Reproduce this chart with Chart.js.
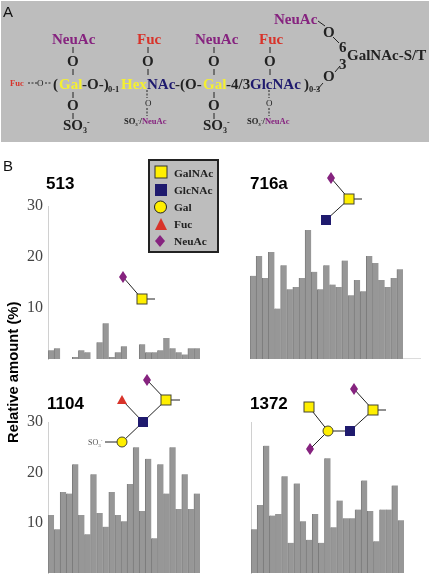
<!DOCTYPE html>
<html>
<head>
<meta charset="utf-8">
<title>Glycan amounts</title>
<script src="https://cdn.jsdelivr.net/npm/chart.js@4"></script>
<style>
  html, body { margin: 0; padding: 0; background: #fff; }
  #page { position: relative; width: 430px; height: 575px; overflow: hidden; }
  .box { position: absolute; }
  #art { position: absolute; left: 0; top: 0; z-index: 2; }
  #art text { font-family: "Liberation Serif", serif; font-weight: bold; }
  #art .sans { font-family: "Liberation Sans", sans-serif; }
  .n { fill: #1f1a6e; } .y { fill: #f5f030; } .r { fill: #d8332a; } .p { fill: #86237f; } .k { fill: #222; }
</style>
</head>
<body>
<div id="page">
  <div class="box" style="left:0;top:196px;width:215px;height:169px"><canvas id="c513"></canvas></div>
  <div class="box" style="left:215px;top:196px;width:215px;height:169px"><canvas id="c716"></canvas></div>
  <div class="box" style="left:0;top:412px;width:215px;height:163px"><canvas id="c1104"></canvas></div>
  <div class="box" style="left:215px;top:412px;width:215px;height:163px"><canvas id="c1372"></canvas></div>

  <svg id="art" width="430" height="575" viewBox="0 0 430 575" xmlns="http://www.w3.org/2000/svg">
    <!-- panel A -->
    <rect x="1" y="1" width="428" height="141" fill="#bdbdbd"/>
    <text class="sans" x="3" y="17" font-size="15" style="font-weight:normal" fill="#111">A</text>
    <g stroke="#222" stroke-width="1" fill="none">
      <path d="M73 47V53M73 69V75M73 92V98M73 113V119"/>
      <path d="M148 47V53M148 69V75"/>
      <path d="M214 47V53M214 69V75M214 92V98M214 113V119"/>
      <path d="M270 47V53M270 69V75"/>
      <path d="M318 21L325 26M333 37L339 43M340 66L335 72M323 83L317 90"/>
      <path stroke-dasharray="2 1.5" d="M28 83H37M45 83H52M147 90V98M147 108V116M269 90V98M269 108V116"/>
    </g>
    <g font-size="15">
      <text class="p" x="52" y="44">NeuAc</text>
      <text class="r" x="137" y="44">Fuc</text>
      <text class="p" x="195" y="44">NeuAc</text>
      <text class="r" x="259" y="44">Fuc</text>
      <text class="p" x="274" y="24">NeuAc</text>
      <text class="k" x="67" y="66">O</text>
      <text class="k" x="142" y="66">O</text>
      <text class="k" x="208" y="66">O</text>
      <text class="k" x="264" y="66">O</text>
      <text class="k" x="67" y="110">O</text>
      <text class="k" x="208" y="110">O</text>
      <text class="k" x="323" y="37">O</text>
      <text class="k" x="323" y="81">O</text>
      <text class="k" x="339" y="52">6</text>
      <text class="k" x="339" y="69">3</text>
      <text class="k" x="347" y="60">GalNAc-S/T</text>
      <text class="k" x="53" y="89">(</text>
      <text class="y" x="59" y="89">Gal</text>
      <text class="k" x="82" y="89">-O-)</text>
      <text class="y" x="121" y="89">Hex</text>
      <text class="n" x="147" y="89">NAc</text>
      <text class="k" x="175" y="89">-(O-</text>
      <text class="y" x="203" y="89">Gal</text>
      <text class="k" x="226" y="89">-4/3</text>
      <text class="n" x="250" y="89">GlcNAc</text>
      <text class="k" x="304" y="89">)</text>
      <text class="k" x="63" y="130">SO<tspan font-size="8" dy="3">3</tspan><tspan font-size="8" dy="-8">-</tspan></text>
      <text class="k" x="203" y="130">SO<tspan font-size="8" dy="3">3</tspan><tspan font-size="8" dy="-8">-</tspan></text>
    </g>
    <g font-size="8.5">
      <text class="r" x="10" y="86">Fuc</text>
      <text class="k" x="37" y="86" style="font-weight:normal" font-size="9">O</text>
      <text class="k" x="108" y="92">0-1</text>
      <text class="k" x="309" y="92">0-3</text>
      <text class="k" x="145" y="106" style="font-weight:normal" font-size="9">O</text>
      <text class="k" x="266" y="106" style="font-weight:normal" font-size="9">O</text>
      <text class="k" x="124" y="124">SO<tspan font-size="5" dy="2">3</tspan><tspan font-size="5" dy="-5">-</tspan><tspan dy="3">/</tspan><tspan class="p">NeuAc</tspan></text>
      <text class="k" x="247" y="124">SO<tspan font-size="5" dy="2">3</tspan><tspan font-size="5" dy="-5">-</tspan><tspan dy="3">/</tspan><tspan class="p">NeuAc</tspan></text>
    </g>

    <!-- panel B headings -->
    <text class="sans" x="3" y="171" font-size="15" style="font-weight:normal" fill="#111">B</text>
    <g class="titles" font-size="17" fill="#000">
      <text class="sans" x="46" y="189">513</text>
      <text class="sans" x="250" y="189">716a</text>
      <text class="sans" x="47" y="409">1104</text>
      <text class="sans" x="250" y="409">1372</text>
    </g>
    <text class="sans" transform="translate(18,443) rotate(-90)" font-size="14.800" fill="#000">Relative amount (%)</text>

    <!-- symbol key -->
    <rect x="149" y="160" width="69" height="92" fill="#bdbdbd" stroke="#222" stroke-width="2"/>
    <rect x="155" y="166" width="12" height="12" fill="#ffef00" stroke="#333" stroke-width="1"/>
    <rect x="155" y="184" width="12" height="12" fill="#1f1a6e"/>
    <circle cx="160.500" cy="207" r="6" fill="#ffef00" stroke="#222" stroke-width="1"/>
    <path d="M155 230L161 218L167 230Z" fill="#d8332a"/>
    <path d="M160 235L165 241L160 247L155 241Z" fill="#86237f"/>
    <g font-size="11.400" fill="#222">
      <text x="174" y="177">GalNAc</text>
      <text x="174" y="194">GlcNAc</text>
      <text x="174" y="211">Gal</text>
      <text x="174" y="228">Fuc</text>
      <text x="174" y="245">NeuAc</text>
    </g>

    <!-- glycan structures -->
    <g stroke="#222" stroke-width="1" fill="none">
      <path d="M123 277L142 299H155"/>
      <path d="M331 178L349 199H362M349 199L326 220"/>
      <path d="M147 380L166 400H180M166 400L143 422L122 400M143 422L122 442H105"/>
      <path d="M354 389L373 410H386M373 410L350 431H328L309 407M328 431L310 449"/>
      <path stroke="#dcdcdc" d="M403 358.500H421"/>
    </g>
    <g fill="#ffef00" stroke="#443" stroke-width="1">
      <rect x="137" y="294" width="10" height="10"/>
      <rect x="344" y="194" width="10" height="10"/>
      <rect x="161" y="395" width="10" height="10"/>
      <rect x="368" y="405" width="10" height="10"/>
      <rect x="304" y="402" width="10" height="10"/>
      <circle cx="122" cy="442" r="5"/>
      <circle cx="328" cy="431" r="5"/>
    </g>
    <g fill="#1f1a6e">
      <rect x="321" y="215" width="10" height="10"/>
      <rect x="138" y="417" width="10" height="10"/>
      <rect x="345" y="426" width="10" height="10"/>
      <path d="M117 404L122 395L127 404Z" fill="#d8332a"/>
    </g>
    <g fill="#86237f">
      <path d="M123 271L127 277L123 283L119 277Z"/>
      <path d="M331 172L335 178L331 184L327 178Z"/>
      <path d="M147 374L151 380L147 386L143 380Z"/>
      <path d="M354 383L358 389L354 395L350 389Z"/>
      <path d="M310 443L314 449L310 455L306 449Z"/>
    </g>
    <text x="88" y="445" font-size="8" style="font-weight:normal" fill="#555">SO<tspan font-size="5" dy="2">3</tspan><tspan font-size="5" dy="-5">-</tspan></text>
  </svg>
</div>

<script>
document.addEventListener('DOMContentLoaded', function(){

  // one bar per sample, same order in every panel
  const samples = ['1','2','3','4','5','6','7','8','9','10','11','12','13','14','15','16','17','18','19','20','21','22','23','24','25'];
  const yTicks = [10, 20, 30];

  const values513 = [1.7, 2.1, 0, 0, 0.4, 1.7, 1.3, 0, 3.3, 7.0, 0.4, 1.3, 2.5, 0, 0, 2.9, 1.3, 1.3, 1.7, 4.1, 2.1, 1.3, 0.9, 2.1, 2.1];
  const values716a = [16.3, 20.2, 15.9, 21.0, 9.9, 18.4, 13.7, 14.1, 15.9, 25.3, 17.1, 13.7, 18.4, 14.6, 14.1, 19.3, 12.5, 15.5, 13.3, 20.2, 18.8, 15.5, 14.1, 15.9, 17.6];
  const values1104 = [11.5, 8.7, 16.1, 15.8, 21.6, 11.5, 7.7, 19.6, 11.9, 9.2, 16.1, 11.5, 10.3, 17.7, 25.0, 12.3, 22.7, 6.9, 21.6, 15.8, 25.0, 12.7, 19.6, 12.7, 15.8];
  const values1372 = [8.7, 13.5, 25.3, 11.4, 11.7, 19.2, 6.0, 17.8, 10.3, 6.6, 11.7, 6.0, 22.8, 9.1, 14.4, 10.9, 10.9, 12.6, 18.4, 12.3, 6.3, 12.6, 12.6, 17.4, 10.5];

  function drawPanel(id, values, opts){
    var config = {
      type: 'bar',
      data: {
        labels: samples,
        datasets: [{
          data: values,
          backgroundColor: '#979797',
          borderColor: '#7c7c7c',
          borderWidth: { left: 1, right: 0, top: 0, bottom: 0 },
          barPercentage: 1,
          categoryPercentage: 1
        }]
      },
      options: {
        responsive: true,
        maintainAspectRatio: false,
        animation: false,
        layout: { padding: { top: opts.top, right: opts.right, bottom: opts.bottom, left: 0 } },
        plugins: { legend: { display: false }, tooltip: { enabled: false } },
        scales: {
          x: {
            grid: { display: false, drawTicks: false },
            border: { display: false },
            ticks: { display: false }
          },
          y: {
            min: 0,
            max: 30,
            // tick labels must not shrink the plot, all panels share one scale
            afterFit: function(scale){
              scale.width = opts.left;
              scale.paddingTop = 0;
              scale.paddingBottom = 0;
            },
            afterBuildTicks: function(scale){
              scale.ticks = yTicks.map(function(v){ return { value: v }; });
            },
            grid: { display: false, drawTicks: false },
            border: { display: opts.axis, color: '#d0d0d0' },
            ticks: {
              display: opts.labels,
              padding: 5,
              color: '#444',
              font: { family: 'Liberation Serif', size: 16 }
            }
          }
        }
      }
    };
    return new Chart(document.getElementById(id), config);
  }

  drawPanel('c513', values513, { left: 48, top: 10, right: 15, bottom: 6, axis: true, labels: true });
  drawPanel('c716', values716a, { left: 35, top: 10, right: 27, bottom: 6, axis: false, labels: false });
  drawPanel('c1104', values1104, { left: 48, top: 10, right: 15, bottom: 2, axis: true, labels: true });
  drawPanel('c1372', values1372, { left: 36, top: 10, right: 26, bottom: 2, axis: true, labels: false });

})
</script>
</body>
</html>
